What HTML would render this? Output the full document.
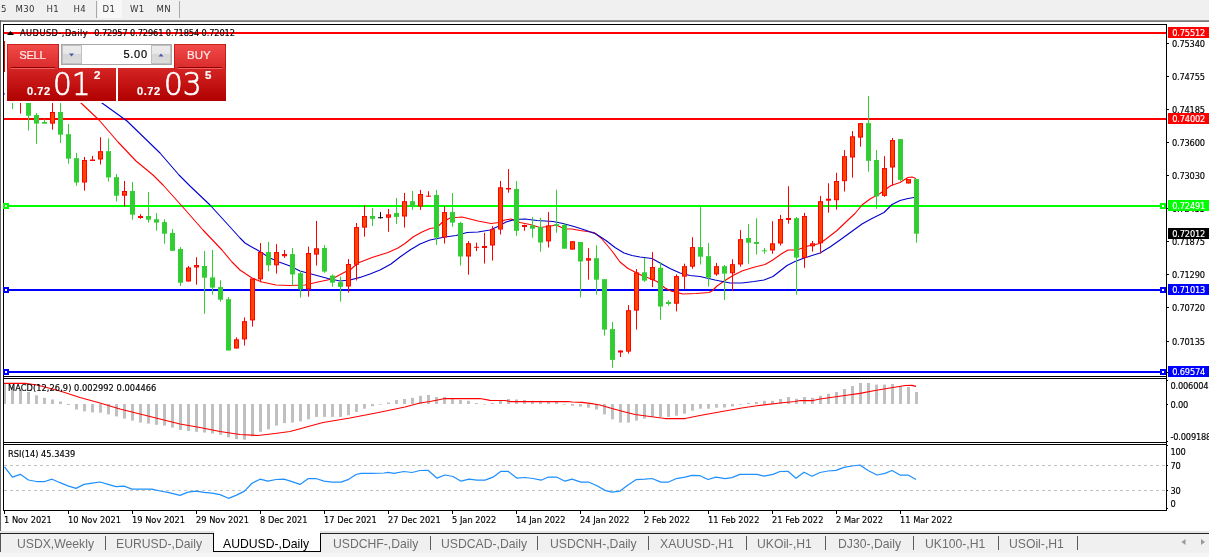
<!DOCTYPE html>
<html><head><meta charset="utf-8"><title>AUDUSD-,Daily</title>
<style>
html,body{margin:0;padding:0;}
body{width:1209px;height:557px;position:relative;overflow:hidden;background:#fff;font-family:"Liberation Sans", sans-serif;}
.t{position:absolute;white-space:nowrap;font-family:"Liberation Sans", sans-serif;-webkit-text-stroke:0.2px;}
.s{font-family:"DejaVu Sans Condensed","Liberation Sans",sans-serif;-webkit-text-stroke:0.15px;}
.pb{font-family:"DejaVu Sans Condensed","Liberation Sans",sans-serif;position:absolute;left:1168px;width:41px;height:11px;font-size:9.2px;letter-spacing:-0.2px;line-height:11.5px;-webkit-text-stroke:0.15px;text-indent:4.3px;white-space:nowrap;overflow:hidden;}
#toolbar{position:absolute;left:0;top:0;width:1209px;height:20px;background:#f0f0f0;}
#tbshadow{position:absolute;left:0;top:20px;width:1209px;height:2px;background:linear-gradient(#a0a0a0,#6e6e6e);}
#leftedge{position:absolute;left:0;top:20px;width:1px;height:511px;background:#666;}
#tabbar{position:absolute;left:0;top:531px;width:1209px;height:26px;background:linear-gradient(#e4e4e4 0,#e4e4e4 2px,#f0f0f0 2px,#f0f0f0 22px,#f6f6f6 22px);}
#tableft{position:absolute;left:0;top:534px;width:1px;height:18px;background:#555;}
#tabline{position:absolute;left:0;top:533px;width:1209px;height:1px;background:#222;}
#tabactive{position:absolute;left:213px;top:533px;width:106px;height:18px;background:#fff;border:1px solid #000;border-top:none;}
#tabwhite{position:absolute;left:214px;top:531px;width:106px;height:3px;background:#fff;}
.sep{position:absolute;top:536px;width:1px;height:14px;background:#5a5a5a;}
.tsep{position:absolute;top:1px;width:1px;height:17px;background:#a8a8a8;}
#d1{position:absolute;left:98px;top:0;width:24px;height:18px;background:#f8f8f8;}
/* trade panel */
#sell{position:absolute;left:7px;top:44px;width:52px;height:25px;background:linear-gradient(#f24a4a,#d92a2a);box-shadow:inset 1px 1px 0 rgba(170,0,0,.55),inset -1px 0 0 rgba(170,0,0,.55);}
#buy{position:absolute;left:174px;top:44px;width:52px;height:25px;background:linear-gradient(#f24a4a,#d92a2a);box-shadow:inset 1px 1px 0 rgba(170,0,0,.55),inset -1px 0 0 rgba(170,0,0,.55);}
#sellp{position:absolute;left:7px;top:68px;width:109px;height:33px;background:linear-gradient(#d42424,#b00000);}
#buyp{position:absolute;left:118px;top:68px;width:108px;height:33px;background:linear-gradient(#d42424,#b00000);}
.uline{position:absolute;height:1px;top:67px;background:#8e0000;box-shadow:0 1px 0 #f06060;}
#spin{position:absolute;left:61px;top:44px;width:111px;height:21px;background:#fff;border:1px solid #a8a8a8;box-sizing:border-box;}
.sb{position:absolute;top:0;width:20px;height:19px;background:linear-gradient(#ececec 0,#e6e6e6 50%,#d6d6d6 50%,#dcdcdc 100%);border:1px solid #c0c0c0;box-sizing:border-box}
.big{font-family:"DejaVu Sans","Liberation Sans",sans-serif;font-weight:200;transform:scaleX(0.94);transform-origin:0 0;-webkit-text-stroke:0.7px #fff;}
</style></head><body>
<div id="toolbar"></div><div id="d1"></div><div id="tbshadow"></div><div id="leftedge"></div>
<div class="tsep" style="left:96px"></div><div class="tsep" style="left:179px"></div>
<svg width="1209" height="557" viewBox="0 0 1209 557" style="position:absolute;left:0;top:0">
<defs><clipPath id="cm"><rect x="4" y="25" width="1162" height="351"/></clipPath><clipPath id="cd"><rect x="4" y="379" width="1162" height="63"/></clipPath></defs>
<rect x="4" y="32" width="1162" height="2" fill="#ff0000" />
<rect x="4" y="118" width="1162" height="2" fill="#ff0000" />
<rect x="4" y="205" width="1162" height="2" fill="#00ff00" />
<rect x="4" y="289" width="1162" height="2" fill="#0000ff" />
<rect x="4" y="371" width="1162" height="2" fill="#0000ff" />
<g clip-path="url(#cm)">
<polyline points="4,60 30,66 60,82 81,103 99,120 118,142 136,161 153,175 163,185 181,205 203,230 222,250 232,262 237,267 240,270 252,278 262,282 276,285 290,285.5 305,285 318,282 332,279 345,272 350,270 358,263 372,257.5 388,252.5 398,248 405,243.5 413,237 422,232 430,228.5 437,227.5 442,222.5 450,218 462,217 478,221 491,223.5 499,222.5 505,220 511,219 520,222.5 530,224.5 540,227.5 548,226.5 556,225 565,229 572,229 580,230.5 594,232.5 601,238 607,245 612,251 620,262 628,268.5 634,271.5 643,276 650,278.5 657,281.5 665,288 671,291 683,294 696,293.5 709,292.5 712,291 717,286 725,280.5 733,275.5 742,271 753,267.5 765,264.5 772,260.5 782,253.5 788,250 797,250 808,246 820,243.5 828,237.5 837,230.5 848,220 855,213.5 862,205 870,199 880,193.5 891,185.5 900,182.5 908,177.5 912,177 916,178.5" fill="none" stroke="#ff0000" stroke-width="1.1" stroke-linejoin="round" />
<polyline points="4,94 40,86 75,86 102,103 127,121 160,153 179,175 190,186 210,205 231,228 240,238 245,243 250,246 259,251 270,258 279,262 290,266 300,271 315,275 328,278.5 340,281 350,280 360,277.4 370,274 380,270 391,264 400,257 410,250 420,244 430,240 445,237 456,235.5 467,232.5 478,232 490,230 498,226.5 506,222 515,219.5 525,219 537,220.5 553,221.5 563,223.5 574,226.5 585,230 596,234 606,240.5 615,247.5 624,253 632,255.5 640,257 652,258.5 660,263 670,268.5 680,273 690,275.5 700,276.5 715,280 730,283 742,283 754,281.5 764,280 773,276.5 780,271 787,265.5 795,261.5 803,258.5 812,255.5 820,253 830,247 840,240 851,232 862,224 871,219 884,212.5 892,204.5 900,200.5 908,198.5 914,197.5" fill="none" stroke="#0000cd" stroke-width="1.1" stroke-linejoin="round" />
<line x1="12.5" y1="85" x2="12.5" y2="109" stroke="#32cd32" stroke-width="1" />
<rect x="10" y="90" width="5" height="10" fill="#32cd32" />
<line x1="20.5" y1="80" x2="20.5" y2="113.7" stroke="#ff0000" stroke-width="1" />
<rect x="18.5" y="85.5" width="4" height="14" fill="#ff4500" stroke="#ff0000" stroke-width="1"/>
<line x1="28.5" y1="85" x2="28.5" y2="130.5" stroke="#32cd32" stroke-width="1" />
<rect x="26" y="90" width="5" height="25.7" fill="#32cd32" />
<line x1="36.5" y1="113" x2="36.5" y2="143.8" stroke="#32cd32" stroke-width="1" />
<rect x="34" y="115" width="5" height="8.6" fill="#32cd32" />
<line x1="44.5" y1="119.3" x2="44.5" y2="123.7" stroke="#32cd32" stroke-width="1" />
<rect x="42" y="122" width="5" height="1.7" fill="#32cd32" />
<line x1="52.5" y1="95" x2="52.5" y2="129.7" stroke="#ff0000" stroke-width="1" />
<rect x="50.5" y="112.5" width="4" height="10.6" fill="#ff4500" stroke="#ff0000" stroke-width="1"/>
<line x1="60.5" y1="95" x2="60.5" y2="143" stroke="#32cd32" stroke-width="1" />
<rect x="58" y="112" width="5" height="22.7" fill="#32cd32" />
<line x1="68.5" y1="124" x2="68.5" y2="163.7" stroke="#32cd32" stroke-width="1" />
<rect x="66" y="134.2" width="5" height="24.5" fill="#32cd32" />
<line x1="76.5" y1="152.9" x2="76.5" y2="185.8" stroke="#32cd32" stroke-width="1" />
<rect x="74" y="158.2" width="5" height="24.3" fill="#32cd32" />
<line x1="84.5" y1="157" x2="84.5" y2="190.7" stroke="#ff0000" stroke-width="1" />
<rect x="82.5" y="160.5" width="4" height="21.5" fill="#ff4500" stroke="#ff0000" stroke-width="1"/>
<line x1="92.5" y1="155.9" x2="92.5" y2="161" stroke="#ff0000" stroke-width="1" />
<rect x="90" y="159.5" width="5" height="1.5" fill="#ff0000" />
<line x1="100.5" y1="137.2" x2="100.5" y2="164.5" stroke="#ff0000" stroke-width="1" />
<rect x="98.5" y="151.7" width="4" height="7.3" fill="#ff4500" stroke="#ff0000" stroke-width="1"/>
<line x1="108.5" y1="138.3" x2="108.5" y2="181.5" stroke="#32cd32" stroke-width="1" />
<rect x="106" y="151.2" width="5" height="26.2" fill="#32cd32" />
<line x1="116.5" y1="174" x2="116.5" y2="201.5" stroke="#32cd32" stroke-width="1" />
<rect x="114" y="177.2" width="5" height="18.5" fill="#32cd32" />
<line x1="124.5" y1="181" x2="124.5" y2="206.4" stroke="#ff0000" stroke-width="1" />
<rect x="122.5" y="191.5" width="4" height="3.7" fill="#ff4500" stroke="#ff0000" stroke-width="1"/>
<line x1="132.5" y1="182" x2="132.5" y2="219.7" stroke="#32cd32" stroke-width="1" />
<rect x="130" y="191" width="5" height="23.7" fill="#32cd32" />
<line x1="140.5" y1="214.2" x2="140.5" y2="218.8" stroke="#ff0000" stroke-width="1" />
<rect x="138" y="216" width="5" height="2" fill="#ff0000" />
<line x1="148.5" y1="192" x2="148.5" y2="222.6" stroke="#32cd32" stroke-width="1" />
<rect x="146" y="216" width="5" height="3.7" fill="#32cd32" />
<line x1="156.5" y1="213" x2="156.5" y2="230.7" stroke="#32cd32" stroke-width="1" />
<rect x="154" y="219.2" width="5" height="3.4" fill="#32cd32" />
<line x1="164.5" y1="219.2" x2="164.5" y2="243.7" stroke="#32cd32" stroke-width="1" />
<rect x="162" y="222.1" width="5" height="11.6" fill="#32cd32" />
<line x1="172.5" y1="229" x2="172.5" y2="250.8" stroke="#32cd32" stroke-width="1" />
<rect x="170" y="232.9" width="5" height="17.9" fill="#32cd32" />
<line x1="180.5" y1="247" x2="180.5" y2="286" stroke="#32cd32" stroke-width="1" />
<rect x="178" y="249" width="5" height="33.7" fill="#32cd32" />
<line x1="188.5" y1="266" x2="188.5" y2="281.5" stroke="#ff0000" stroke-width="1" />
<rect x="186.5" y="268" width="4" height="13" fill="#ff4500" stroke="#ff0000" stroke-width="1"/>
<line x1="196.5" y1="257.2" x2="196.5" y2="284.7" stroke="#ff0000" stroke-width="1" />
<rect x="194.5" y="265.5" width="4" height="1.5" fill="#ff4500" stroke="#ff0000" stroke-width="1"/>
<line x1="204.5" y1="251" x2="204.5" y2="313.8" stroke="#32cd32" stroke-width="1" />
<rect x="202" y="266" width="5" height="11.7" fill="#32cd32" />
<line x1="212.5" y1="250" x2="212.5" y2="294.6" stroke="#32cd32" stroke-width="1" />
<rect x="210" y="277.4" width="5" height="10.2" fill="#32cd32" />
<line x1="220.5" y1="280.2" x2="220.5" y2="301.7" stroke="#32cd32" stroke-width="1" />
<rect x="218" y="287.1" width="5" height="12.6" fill="#32cd32" />
<line x1="228.5" y1="297" x2="228.5" y2="350.5" stroke="#32cd32" stroke-width="1" />
<rect x="226" y="299.2" width="5" height="51.3" fill="#32cd32" />
<line x1="236.5" y1="337.3" x2="236.5" y2="348.5" stroke="#ff0000" stroke-width="1" />
<rect x="234.5" y="339.8" width="4" height="8.2" fill="#ff4500" stroke="#ff0000" stroke-width="1"/>
<line x1="244.5" y1="317.4" x2="244.5" y2="345.5" stroke="#ff0000" stroke-width="1" />
<rect x="242.5" y="321.7" width="4" height="17.2" fill="#ff4500" stroke="#ff0000" stroke-width="1"/>
<line x1="252.5" y1="278.5" x2="252.5" y2="326.5" stroke="#ff0000" stroke-width="1" />
<rect x="250.5" y="279" width="4" height="40.9" fill="#ff4500" stroke="#ff0000" stroke-width="1"/>
<line x1="260.5" y1="243" x2="260.5" y2="282.3" stroke="#ff0000" stroke-width="1" />
<rect x="258.5" y="252.5" width="4" height="26.4" fill="#ff4500" stroke="#ff0000" stroke-width="1"/>
<line x1="268.5" y1="242" x2="268.5" y2="271.4" stroke="#32cd32" stroke-width="1" />
<rect x="266" y="252.1" width="5" height="13.2" fill="#32cd32" />
<line x1="276.5" y1="244.2" x2="276.5" y2="273.6" stroke="#ff0000" stroke-width="1" />
<rect x="274.5" y="252.6" width="4" height="12.2" fill="#ff4500" stroke="#ff0000" stroke-width="1"/>
<line x1="284.5" y1="250" x2="284.5" y2="257.9" stroke="#ff0000" stroke-width="1" />
<rect x="282.5" y="254.5" width="4" height="1.2" fill="#ff4500" stroke="#ff0000" stroke-width="1"/>
<line x1="292.5" y1="248" x2="292.5" y2="285.7" stroke="#32cd32" stroke-width="1" />
<rect x="290" y="254.1" width="5" height="20.3" fill="#32cd32" />
<line x1="300.5" y1="271" x2="300.5" y2="297.6" stroke="#32cd32" stroke-width="1" />
<rect x="298" y="273.2" width="5" height="16.1" fill="#32cd32" />
<line x1="308.5" y1="246.7" x2="308.5" y2="296.7" stroke="#ff0000" stroke-width="1" />
<rect x="306.5" y="253.5" width="4" height="35.3" fill="#ff4500" stroke="#ff0000" stroke-width="1"/>
<line x1="316.5" y1="221" x2="316.5" y2="265.5" stroke="#ff0000" stroke-width="1" />
<rect x="314.5" y="248.8" width="4" height="5.3" fill="#ff4500" stroke="#ff0000" stroke-width="1"/>
<line x1="324.5" y1="245" x2="324.5" y2="272.8" stroke="#32cd32" stroke-width="1" />
<rect x="322" y="248" width="5" height="23.6" fill="#32cd32" />
<line x1="332.5" y1="274.4" x2="332.5" y2="286.8" stroke="#32cd32" stroke-width="1" />
<rect x="330" y="275.6" width="5" height="7.1" fill="#32cd32" />
<line x1="340.5" y1="276.6" x2="340.5" y2="301.7" stroke="#32cd32" stroke-width="1" />
<rect x="338" y="282.2" width="5" height="4.6" fill="#32cd32" />
<line x1="348.5" y1="259" x2="348.5" y2="292.6" stroke="#ff0000" stroke-width="1" />
<rect x="346.5" y="264.5" width="4" height="21.5" fill="#ff4500" stroke="#ff0000" stroke-width="1"/>
<line x1="356.5" y1="223" x2="356.5" y2="280.5" stroke="#ff0000" stroke-width="1" />
<rect x="354.5" y="227.6" width="4" height="36.7" fill="#ff4500" stroke="#ff0000" stroke-width="1"/>
<line x1="364.5" y1="205.3" x2="364.5" y2="236.7" stroke="#ff0000" stroke-width="1" />
<rect x="362.5" y="216.5" width="4" height="10.6" fill="#ff4500" stroke="#ff0000" stroke-width="1"/>
<line x1="372.5" y1="208.1" x2="372.5" y2="226" stroke="#32cd32" stroke-width="1" />
<rect x="370" y="216" width="5" height="2.9" fill="#32cd32" />
<line x1="380.5" y1="212.2" x2="380.5" y2="218.5" stroke="#000" stroke-width="1" />
<rect x="378" y="217.2" width="5" height="1" fill="#000" />
<line x1="388.5" y1="209" x2="388.5" y2="231.8" stroke="#ff0000" stroke-width="1" />
<rect x="386.5" y="214.9" width="4" height="2.3" fill="#ff4500" stroke="#ff0000" stroke-width="1"/>
<line x1="396.5" y1="197.9" x2="396.5" y2="224" stroke="#32cd32" stroke-width="1" />
<rect x="394" y="213" width="5" height="3.9" fill="#32cd32" />
<line x1="404.5" y1="192.9" x2="404.5" y2="227.6" stroke="#ff0000" stroke-width="1" />
<rect x="402.5" y="201.7" width="4" height="14.3" fill="#ff4500" stroke="#ff0000" stroke-width="1"/>
<line x1="412.5" y1="190.9" x2="412.5" y2="209.9" stroke="#32cd32" stroke-width="1" />
<rect x="410" y="201.2" width="5" height="4.9" fill="#32cd32" />
<line x1="420.5" y1="189.9" x2="420.5" y2="209.9" stroke="#ff0000" stroke-width="1" />
<rect x="418.5" y="194.5" width="4" height="11.5" fill="#ff4500" stroke="#ff0000" stroke-width="1"/>
<line x1="428.5" y1="191.2" x2="428.5" y2="196.7" stroke="#ff0000" stroke-width="1" />
<rect x="426" y="195.7" width="5" height="1" fill="#ff0000" />
<line x1="436.5" y1="189.9" x2="436.5" y2="244.8" stroke="#32cd32" stroke-width="1" />
<rect x="434" y="195" width="5" height="42.7" fill="#32cd32" />
<line x1="444.5" y1="206.4" x2="444.5" y2="243.6" stroke="#ff0000" stroke-width="1" />
<rect x="442.5" y="212.6" width="4" height="24.4" fill="#ff4500" stroke="#ff0000" stroke-width="1"/>
<line x1="452.5" y1="193.1" x2="452.5" y2="226.7" stroke="#32cd32" stroke-width="1" />
<rect x="450" y="212.1" width="5" height="10.5" fill="#32cd32" />
<line x1="460.5" y1="221.7" x2="460.5" y2="265.6" stroke="#32cd32" stroke-width="1" />
<rect x="458" y="222.9" width="5" height="33.6" fill="#32cd32" />
<line x1="468.5" y1="241.1" x2="468.5" y2="274.7" stroke="#ff0000" stroke-width="1" />
<rect x="466.5" y="243.7" width="4" height="12.3" fill="#ff4500" stroke="#ff0000" stroke-width="1"/>
<line x1="476.5" y1="242.7" x2="476.5" y2="251" stroke="#ff0000" stroke-width="1" />
<rect x="474" y="246.8" width="5" height="1" fill="#ff0000" />
<line x1="484.5" y1="232.8" x2="484.5" y2="263.6" stroke="#ff0000" stroke-width="1" />
<rect x="482" y="246" width="5" height="2" fill="#ff0000" />
<line x1="492.5" y1="226.2" x2="492.5" y2="260.6" stroke="#ff0000" stroke-width="1" />
<rect x="490.5" y="229.7" width="4" height="15.3" fill="#ff4500" stroke="#ff0000" stroke-width="1"/>
<line x1="500.5" y1="181" x2="500.5" y2="234.5" stroke="#ff0000" stroke-width="1" />
<rect x="498.5" y="187.8" width="4" height="41.2" fill="#ff4500" stroke="#ff0000" stroke-width="1"/>
<line x1="508.5" y1="169.1" x2="508.5" y2="192.8" stroke="#ff0000" stroke-width="1" />
<rect x="506" y="188" width="5" height="1.5" fill="#ff0000" />
<line x1="516.5" y1="181" x2="516.5" y2="235.8" stroke="#32cd32" stroke-width="1" />
<rect x="514" y="189" width="5" height="41.8" fill="#32cd32" />
<line x1="524.5" y1="224.6" x2="524.5" y2="230.8" stroke="#ff0000" stroke-width="1" />
<rect x="522" y="225" width="5" height="2" fill="#ff0000" />
<line x1="532.5" y1="217.1" x2="532.5" y2="237.8" stroke="#32cd32" stroke-width="1" />
<rect x="530" y="225.4" width="5" height="3.3" fill="#32cd32" />
<line x1="540.5" y1="217.9" x2="540.5" y2="251.6" stroke="#32cd32" stroke-width="1" />
<rect x="538" y="227" width="5" height="15.5" fill="#32cd32" />
<line x1="548.5" y1="212.1" x2="548.5" y2="247.5" stroke="#ff0000" stroke-width="1" />
<rect x="546.5" y="225.9" width="4" height="15" fill="#ff4500" stroke="#ff0000" stroke-width="1"/>
<line x1="556.5" y1="189.8" x2="556.5" y2="232.8" stroke="#32cd32" stroke-width="1" />
<rect x="554" y="224.2" width="5" height="1.7" fill="#32cd32" />
<line x1="564.5" y1="223.2" x2="564.5" y2="248.7" stroke="#32cd32" stroke-width="1" />
<rect x="562" y="224.9" width="5" height="23.8" fill="#32cd32" />
<line x1="572.5" y1="241.2" x2="572.5" y2="249.6" stroke="#ff0000" stroke-width="1" />
<rect x="570.5" y="241.7" width="4" height="7.4" fill="#ff4500" stroke="#ff0000" stroke-width="1"/>
<line x1="580.5" y1="242" x2="580.5" y2="297.5" stroke="#32cd32" stroke-width="1" />
<rect x="578" y="242" width="5" height="19.5" fill="#32cd32" />
<line x1="588.5" y1="248.2" x2="588.5" y2="279.7" stroke="#ff0000" stroke-width="1" />
<rect x="586.5" y="258.7" width="4" height="1.4" fill="#ff4500" stroke="#ff0000" stroke-width="1"/>
<line x1="596.5" y1="245.3" x2="596.5" y2="294.6" stroke="#32cd32" stroke-width="1" />
<rect x="594" y="258.2" width="5" height="21.5" fill="#32cd32" />
<line x1="604.5" y1="279.2" x2="604.5" y2="335.7" stroke="#32cd32" stroke-width="1" />
<rect x="602" y="279.2" width="5" height="50.4" fill="#32cd32" />
<line x1="612.5" y1="322" x2="612.5" y2="367.7" stroke="#32cd32" stroke-width="1" />
<rect x="610" y="329.1" width="5" height="30.8" fill="#32cd32" />
<line x1="620.5" y1="350.3" x2="620.5" y2="356.9" stroke="#ff0000" stroke-width="1" />
<rect x="618" y="350.5" width="5" height="2" fill="#ff0000" />
<line x1="628.5" y1="305.1" x2="628.5" y2="353.6" stroke="#ff0000" stroke-width="1" />
<rect x="626.5" y="310.7" width="4" height="40.4" fill="#ff4500" stroke="#ff0000" stroke-width="1"/>
<line x1="636.5" y1="269" x2="636.5" y2="329.6" stroke="#ff0000" stroke-width="1" />
<rect x="634.5" y="272.9" width="4" height="37.2" fill="#ff4500" stroke="#ff0000" stroke-width="1"/>
<line x1="644.5" y1="257.9" x2="644.5" y2="281.9" stroke="#32cd32" stroke-width="1" />
<rect x="642" y="272.3" width="5" height="8.3" fill="#32cd32" />
<line x1="652.5" y1="252.1" x2="652.5" y2="287.1" stroke="#ff0000" stroke-width="1" />
<rect x="650.5" y="267.5" width="4" height="11.9" fill="#ff4500" stroke="#ff0000" stroke-width="1"/>
<line x1="660.5" y1="262" x2="660.5" y2="319.7" stroke="#32cd32" stroke-width="1" />
<rect x="658" y="267.8" width="5" height="38.7" fill="#32cd32" />
<line x1="668.5" y1="300.3" x2="668.5" y2="305.6" stroke="#32cd32" stroke-width="1" />
<rect x="666" y="302" width="5" height="2" fill="#32cd32" />
<line x1="676.5" y1="274.4" x2="676.5" y2="311.4" stroke="#ff0000" stroke-width="1" />
<rect x="674.5" y="276.6" width="4" height="26.6" fill="#ff4500" stroke="#ff0000" stroke-width="1"/>
<line x1="684.5" y1="263.7" x2="684.5" y2="289.1" stroke="#ff0000" stroke-width="1" />
<rect x="682.5" y="266.7" width="4" height="9.4" fill="#ff4500" stroke="#ff0000" stroke-width="1"/>
<line x1="692.5" y1="237.2" x2="692.5" y2="268.7" stroke="#ff0000" stroke-width="1" />
<rect x="690.5" y="247.6" width="4" height="18.6" fill="#ff4500" stroke="#ff0000" stroke-width="1"/>
<line x1="700.5" y1="205.8" x2="700.5" y2="264.5" stroke="#32cd32" stroke-width="1" />
<rect x="698" y="247.1" width="5" height="9.6" fill="#32cd32" />
<line x1="708.5" y1="243" x2="708.5" y2="286.6" stroke="#32cd32" stroke-width="1" />
<rect x="706" y="256.2" width="5" height="21.5" fill="#32cd32" />
<line x1="716.5" y1="262.9" x2="716.5" y2="275.8" stroke="#ff0000" stroke-width="1" />
<rect x="714.5" y="266.7" width="4" height="7.2" fill="#ff4500" stroke="#ff0000" stroke-width="1"/>
<line x1="724.5" y1="265" x2="724.5" y2="299.9" stroke="#32cd32" stroke-width="1" />
<rect x="722" y="266.2" width="5" height="7.4" fill="#32cd32" />
<line x1="732.5" y1="259.2" x2="732.5" y2="290.8" stroke="#ff0000" stroke-width="1" />
<rect x="730.5" y="264.7" width="4" height="8.1" fill="#ff4500" stroke="#ff0000" stroke-width="1"/>
<line x1="740.5" y1="230.1" x2="740.5" y2="266.7" stroke="#ff0000" stroke-width="1" />
<rect x="738.5" y="239.7" width="4" height="24.3" fill="#ff4500" stroke="#ff0000" stroke-width="1"/>
<line x1="748.5" y1="224" x2="748.5" y2="263.7" stroke="#32cd32" stroke-width="1" />
<rect x="746" y="238" width="5" height="4.7" fill="#32cd32" />
<line x1="756.5" y1="218.2" x2="756.5" y2="254.6" stroke="#32cd32" stroke-width="1" />
<rect x="754" y="242" width="5" height="2" fill="#32cd32" />
<line x1="764.5" y1="248" x2="764.5" y2="253.8" stroke="#32cd32" stroke-width="1" />
<rect x="762" y="250.3" width="5" height="1" fill="#32cd32" />
<line x1="772.5" y1="221.2" x2="772.5" y2="253.8" stroke="#ff0000" stroke-width="1" />
<rect x="770.5" y="243.8" width="4" height="6.2" fill="#ff4500" stroke="#ff0000" stroke-width="1"/>
<line x1="780.5" y1="214.9" x2="780.5" y2="245.5" stroke="#ff0000" stroke-width="1" />
<rect x="778.5" y="219.5" width="4" height="23.5" fill="#ff4500" stroke="#ff0000" stroke-width="1"/>
<line x1="788.5" y1="186.2" x2="788.5" y2="223.7" stroke="#ff0000" stroke-width="1" />
<rect x="786" y="218" width="5" height="2" fill="#ff0000" />
<line x1="796.5" y1="217" x2="796.5" y2="294.7" stroke="#32cd32" stroke-width="1" />
<rect x="794" y="218.2" width="5" height="39.4" fill="#32cd32" />
<line x1="804.5" y1="212.9" x2="804.5" y2="267.8" stroke="#ff0000" stroke-width="1" />
<rect x="802.5" y="216.5" width="4" height="40.9" fill="#ff4500" stroke="#ff0000" stroke-width="1"/>
<line x1="812.5" y1="241" x2="812.5" y2="251.6" stroke="#ff0000" stroke-width="1" />
<rect x="810.5" y="243.8" width="4" height="2" fill="#ff4500" stroke="#ff0000" stroke-width="1"/>
<line x1="820.5" y1="195.9" x2="820.5" y2="253.6" stroke="#ff0000" stroke-width="1" />
<rect x="818.5" y="201.7" width="4" height="41.1" fill="#ff4500" stroke="#ff0000" stroke-width="1"/>
<line x1="828.5" y1="183.2" x2="828.5" y2="212.7" stroke="#ff0000" stroke-width="1" />
<rect x="826" y="198.7" width="5" height="2" fill="#ff0000" />
<line x1="836.5" y1="172.8" x2="836.5" y2="209.7" stroke="#ff0000" stroke-width="1" />
<rect x="834.5" y="181.5" width="4" height="18.2" fill="#ff4500" stroke="#ff0000" stroke-width="1"/>
<line x1="844.5" y1="150" x2="844.5" y2="191.5" stroke="#ff0000" stroke-width="1" />
<rect x="842.5" y="156.7" width="4" height="24" fill="#ff4500" stroke="#ff0000" stroke-width="1"/>
<line x1="852.5" y1="131" x2="852.5" y2="177.7" stroke="#ff0000" stroke-width="1" />
<rect x="850.5" y="136.8" width="4" height="20.2" fill="#ff4500" stroke="#ff0000" stroke-width="1"/>
<line x1="860.5" y1="123.1" x2="860.5" y2="146.7" stroke="#ff0000" stroke-width="1" />
<rect x="858.5" y="123.6" width="4" height="13.5" fill="#ff4500" stroke="#ff0000" stroke-width="1"/>
<line x1="868.5" y1="96.1" x2="868.5" y2="171.6" stroke="#32cd32" stroke-width="1" />
<rect x="866" y="123.1" width="5" height="37.7" fill="#32cd32" />
<line x1="876.5" y1="150" x2="876.5" y2="208.8" stroke="#32cd32" stroke-width="1" />
<rect x="874" y="160" width="5" height="36.4" fill="#32cd32" />
<line x1="884.5" y1="156.2" x2="884.5" y2="196.8" stroke="#ff0000" stroke-width="1" />
<rect x="882.5" y="168.6" width="4" height="26.8" fill="#ff4500" stroke="#ff0000" stroke-width="1"/>
<line x1="892.5" y1="138" x2="892.5" y2="185.7" stroke="#ff0000" stroke-width="1" />
<rect x="890.5" y="140.6" width="4" height="26.4" fill="#ff4500" stroke="#ff0000" stroke-width="1"/>
<line x1="900.5" y1="139.1" x2="900.5" y2="181" stroke="#32cd32" stroke-width="1" />
<rect x="898" y="139.1" width="5" height="40.8" fill="#32cd32" />
<line x1="908.5" y1="179.1" x2="908.5" y2="183.5" stroke="#ff0000" stroke-width="1" />
<rect x="906.5" y="179.6" width="4" height="3.4" fill="#ff4500" stroke="#ff0000" stroke-width="1"/>
<line x1="916.5" y1="179.1" x2="916.5" y2="242.7" stroke="#32cd32" stroke-width="1" />
<rect x="914" y="179.1" width="5" height="54.6" fill="#32cd32" />
<line x1="4.5" y1="41" x2="4.5" y2="72" stroke="#ff0000" stroke-width="1" />
</g>
<g clip-path="url(#cd)">
<rect x="3" y="383.4" width="3" height="20.6" fill="#c0c0c0" />
<rect x="11" y="387" width="3" height="17" fill="#c0c0c0" />
<rect x="19" y="389.6" width="3" height="14.4" fill="#c0c0c0" />
<rect x="27" y="392" width="3" height="12" fill="#c0c0c0" />
<rect x="35" y="395.3" width="3" height="8.7" fill="#c0c0c0" />
<rect x="43" y="397.8" width="3" height="6.2" fill="#c0c0c0" />
<rect x="51" y="399.5" width="3" height="4.5" fill="#c0c0c0" />
<rect x="59" y="401.5" width="3" height="2.5" fill="#c0c0c0" />
<rect x="67" y="404" width="3" height="1" fill="#c0c0c0" />
<rect x="75" y="404" width="3" height="5.5" fill="#c0c0c0" />
<rect x="83" y="404" width="3" height="7.4" fill="#c0c0c0" />
<rect x="91" y="404" width="3" height="8.4" fill="#c0c0c0" />
<rect x="99" y="404" width="3" height="8.7" fill="#c0c0c0" />
<rect x="107" y="404" width="3" height="10.4" fill="#c0c0c0" />
<rect x="115" y="404" width="3" height="12.4" fill="#c0c0c0" />
<rect x="123" y="404" width="3" height="14.6" fill="#c0c0c0" />
<rect x="131" y="404" width="3" height="16.6" fill="#c0c0c0" />
<rect x="139" y="404" width="3" height="18.6" fill="#c0c0c0" />
<rect x="147" y="404" width="3" height="19.6" fill="#c0c0c0" />
<rect x="155" y="404" width="3" height="20.8" fill="#c0c0c0" />
<rect x="163" y="404" width="3" height="21.6" fill="#c0c0c0" />
<rect x="171" y="404" width="3" height="23.6" fill="#c0c0c0" />
<rect x="179" y="404" width="3" height="26" fill="#c0c0c0" />
<rect x="187" y="404" width="3" height="27" fill="#c0c0c0" />
<rect x="195" y="404" width="3" height="27.8" fill="#c0c0c0" />
<rect x="203" y="404" width="3" height="28.5" fill="#c0c0c0" />
<rect x="211" y="404" width="3" height="29.5" fill="#c0c0c0" />
<rect x="219" y="404" width="3" height="30.8" fill="#c0c0c0" />
<rect x="227" y="404" width="3" height="33.3" fill="#c0c0c0" />
<rect x="235" y="404" width="3" height="35.2" fill="#c0c0c0" />
<rect x="243" y="404" width="3" height="35.7" fill="#c0c0c0" />
<rect x="251" y="404" width="3" height="32.3" fill="#c0c0c0" />
<rect x="259" y="404" width="3" height="27.8" fill="#c0c0c0" />
<rect x="267" y="404" width="3" height="25.3" fill="#c0c0c0" />
<rect x="275" y="404" width="3" height="21.6" fill="#c0c0c0" />
<rect x="283" y="404" width="3" height="19.1" fill="#c0c0c0" />
<rect x="291" y="404" width="3" height="18.6" fill="#c0c0c0" />
<rect x="299" y="404" width="3" height="17.4" fill="#c0c0c0" />
<rect x="307" y="404" width="3" height="15.4" fill="#c0c0c0" />
<rect x="315" y="404" width="3" height="12.9" fill="#c0c0c0" />
<rect x="323" y="404" width="3" height="12.9" fill="#c0c0c0" />
<rect x="331" y="404" width="3" height="12.9" fill="#c0c0c0" />
<rect x="339" y="404" width="3" height="12.9" fill="#c0c0c0" />
<rect x="347" y="404" width="3" height="11.2" fill="#c0c0c0" />
<rect x="355" y="404" width="3" height="8" fill="#c0c0c0" />
<rect x="363" y="404" width="3" height="4.7" fill="#c0c0c0" />
<rect x="371" y="404" width="3" height="2.2" fill="#c0c0c0" />
<rect x="379" y="404" width="3" height="0.6" fill="#c0c0c0" />
<rect x="387" y="402.5" width="3" height="1.5" fill="#c0c0c0" />
<rect x="395" y="400" width="3" height="4" fill="#c0c0c0" />
<rect x="403" y="399" width="3" height="5" fill="#c0c0c0" />
<rect x="411" y="397.8" width="3" height="6.2" fill="#c0c0c0" />
<rect x="419" y="395.8" width="3" height="8.2" fill="#c0c0c0" />
<rect x="427" y="395" width="3" height="9" fill="#c0c0c0" />
<rect x="435" y="397" width="3" height="7" fill="#c0c0c0" />
<rect x="443" y="397" width="3" height="7" fill="#c0c0c0" />
<rect x="451" y="398.3" width="3" height="5.7" fill="#c0c0c0" />
<rect x="459" y="400" width="3" height="4" fill="#c0c0c0" />
<rect x="467" y="400.8" width="3" height="3.2" fill="#c0c0c0" />
<rect x="475" y="403" width="3" height="1" fill="#c0c0c0" />
<rect x="483" y="404" width="3" height="0.6" fill="#c0c0c0" />
<rect x="491" y="403" width="3" height="1" fill="#c0c0c0" />
<rect x="499" y="401" width="3" height="3" fill="#c0c0c0" />
<rect x="507" y="399" width="3" height="5" fill="#c0c0c0" />
<rect x="515" y="399.5" width="3" height="4.5" fill="#c0c0c0" />
<rect x="523" y="400" width="3" height="4" fill="#c0c0c0" />
<rect x="531" y="400.8" width="3" height="3.2" fill="#c0c0c0" />
<rect x="539" y="400.8" width="3" height="3.2" fill="#c0c0c0" />
<rect x="547" y="401" width="3" height="3" fill="#c0c0c0" />
<rect x="555" y="401.3" width="3" height="2.7" fill="#c0c0c0" />
<rect x="563" y="404" width="3" height="0.6" fill="#c0c0c0" />
<rect x="571" y="404" width="3" height="1.7" fill="#c0c0c0" />
<rect x="579" y="404" width="3" height="2.5" fill="#c0c0c0" />
<rect x="587" y="404" width="3" height="3.7" fill="#c0c0c0" />
<rect x="595" y="404" width="3" height="5.5" fill="#c0c0c0" />
<rect x="603" y="404" width="3" height="10.4" fill="#c0c0c0" />
<rect x="611" y="404" width="3" height="15.4" fill="#c0c0c0" />
<rect x="619" y="404" width="3" height="18.6" fill="#c0c0c0" />
<rect x="627" y="404" width="3" height="18.6" fill="#c0c0c0" />
<rect x="635" y="404" width="3" height="16.6" fill="#c0c0c0" />
<rect x="643" y="404" width="3" height="14.6" fill="#c0c0c0" />
<rect x="651" y="404" width="3" height="12.9" fill="#c0c0c0" />
<rect x="659" y="404" width="3" height="12.9" fill="#c0c0c0" />
<rect x="667" y="404" width="3" height="12.9" fill="#c0c0c0" />
<rect x="675" y="404" width="3" height="11.7" fill="#c0c0c0" />
<rect x="683" y="404" width="3" height="9.7" fill="#c0c0c0" />
<rect x="691" y="404" width="3" height="6.7" fill="#c0c0c0" />
<rect x="699" y="404" width="3" height="4.7" fill="#c0c0c0" />
<rect x="707" y="404" width="3" height="4.7" fill="#c0c0c0" />
<rect x="715" y="404" width="3" height="3.7" fill="#c0c0c0" />
<rect x="723" y="404" width="3" height="3.5" fill="#c0c0c0" />
<rect x="731" y="404" width="3" height="2.5" fill="#c0c0c0" />
<rect x="739" y="404" width="3" height="0.7" fill="#c0c0c0" />
<rect x="747" y="402.8" width="3" height="1.2" fill="#c0c0c0" />
<rect x="755" y="402" width="3" height="2" fill="#c0c0c0" />
<rect x="763" y="400.8" width="3" height="3.2" fill="#c0c0c0" />
<rect x="771" y="400.8" width="3" height="3.2" fill="#c0c0c0" />
<rect x="779" y="399" width="3" height="5" fill="#c0c0c0" />
<rect x="787" y="397" width="3" height="7" fill="#c0c0c0" />
<rect x="795" y="398.8" width="3" height="5.2" fill="#c0c0c0" />
<rect x="803" y="397" width="3" height="7" fill="#c0c0c0" />
<rect x="811" y="397.8" width="3" height="6.2" fill="#c0c0c0" />
<rect x="819" y="395.8" width="3" height="8.2" fill="#c0c0c0" />
<rect x="827" y="393.8" width="3" height="10.2" fill="#c0c0c0" />
<rect x="835" y="392" width="3" height="12" fill="#c0c0c0" />
<rect x="843" y="389" width="3" height="15" fill="#c0c0c0" />
<rect x="851" y="386" width="3" height="18" fill="#c0c0c0" />
<rect x="859" y="383" width="3" height="21" fill="#c0c0c0" />
<rect x="867" y="383" width="3" height="21" fill="#c0c0c0" />
<rect x="875" y="384.6" width="3" height="19.4" fill="#c0c0c0" />
<rect x="883" y="384.6" width="3" height="19.4" fill="#c0c0c0" />
<rect x="891" y="384" width="3" height="20" fill="#c0c0c0" />
<rect x="899" y="386" width="3" height="18" fill="#c0c0c0" />
<rect x="907" y="387" width="3" height="17" fill="#c0c0c0" />
<rect x="915" y="392" width="3" height="12" fill="#c0c0c0" />
<polyline points="4,383.4 25,383.4 37,385 60,391 80,397.5 100,403 120,409 140,414 160,419 180,424 200,427.5 220,431.5 240,434.5 258,435.5 275,433.5 290,431.5 323,422.5 350,418 376,413 405,407 420,403 430,401.5 445,398.5 480,398.5 490,400.3 505,400.5 510,401.5 568,401.5 572,402 582,402.3 590,403.3 600,405 612,408.5 625,412 635,414.5 650,416.5 665,418.5 685,418.5 700,415.5 722,411.5 742,408 755,406 780,403 795,401.5 800,400.5 813,400.5 820,399 845,395.5 860,393.3 875,390.5 890,388 905,385.5 912,385.3 916,386.4" fill="none" stroke="#ff0000" stroke-width="1.25" stroke-linejoin="round" />
</g>
<line x1="4" y1="465.5" x2="1166" y2="465.5" stroke="#c0c0c0" stroke-width="1" stroke-dasharray="3,3"/>
<line x1="4" y1="490.5" x2="1166" y2="490.5" stroke="#c0c0c0" stroke-width="1" stroke-dasharray="3,3"/>
<polyline points="4.5,466.8 12.4,477.2 20.3,474.3 28.5,480 36.5,481.5 44.7,481.5 52.1,479.2 60,482.7 68,485.9 76,488.4 84,484.4 92,483.2 100,482 108,484.4 116,486.7 124,486.2 132,489.1 140,489.1 152,489.1 160,491 168,492.4 180,495.4 188,492.1 196,491.1 204,492.4 212,493.1 220,494.6 228.5,498.3 236,495.4 244.5,491.1 252,483.2 260,479.2 268,481.2 276,479.5 284,479.2 292,481.7 300,484.4 308,478.7 316,478.5 324,481.2 332,482.2 341,482.2 348,479.7 356,474.5 361,473.3 372,473.3 384,473 388,472.3 394,473.3 404,471.5 412,472.5 420,470.5 428,470.3 437,478.2 445,475 453,476.5 461,481.2 469,479.2 477,480.2 485,480.2 493,477.2 501,471.3 508,471.3 517,478.2 525,477.5 533,478.5 541,480.2 548,477.2 557,477.2 565,481.2 572,479.2 581,482.2 589,482.2 597,485.7 605,490.4 612,492.1 620,491.1 628,484.9 636,479.7 645,479.2 652,478.5 661,482.2 668,482.2 676,478.7 685,477.2 692,475.3 700,475.7 708,479.5 716,477.2 725,478.7 732,477.7 740,474.3 757,474.3 764,476.2 773,474.3 780,471.5 788,471.3 796,478.2 804,472.3 812,476.2 820,472.5 828,471 836,470.3 844,467.3 852,466 860,465 868,470.5 877,475 885,473.3 892,470.5 900,475 908,475 916,479.5" fill="none" stroke="#1e90ff" stroke-width="1.25" stroke-linejoin="round" />
<rect x="3" y="24" width="1164" height="1" fill="#000" />
<rect x="3" y="24" width="1" height="487" fill="#000" />
<rect x="1166" y="24" width="1" height="487" fill="#000" />
<rect x="3" y="376" width="1164" height="1" fill="#000" />
<rect x="3" y="378" width="1164" height="1" fill="#000" />
<rect x="3" y="442" width="1164" height="1" fill="#000" />
<rect x="3" y="444" width="1164" height="1" fill="#000" />
<rect x="3" y="510" width="1164" height="1" fill="#000" />
<rect x="4" y="511" width="1" height="3" fill="#000" />
<rect x="68" y="511" width="1" height="3" fill="#000" />
<rect x="132" y="511" width="1" height="3" fill="#000" />
<rect x="196" y="511" width="1" height="3" fill="#000" />
<rect x="260" y="511" width="1" height="3" fill="#000" />
<rect x="324" y="511" width="1" height="3" fill="#000" />
<rect x="388" y="511" width="1" height="3" fill="#000" />
<rect x="452" y="511" width="1" height="3" fill="#000" />
<rect x="516" y="511" width="1" height="3" fill="#000" />
<rect x="580" y="511" width="1" height="3" fill="#000" />
<rect x="644" y="511" width="1" height="3" fill="#000" />
<rect x="708" y="511" width="1" height="3" fill="#000" />
<rect x="772" y="511" width="1" height="3" fill="#000" />
<rect x="836" y="511" width="1" height="3" fill="#000" />
<rect x="900" y="511" width="1" height="3" fill="#000" />
<rect x="1167" y="43" width="2" height="1" fill="#000" />
<rect x="1167" y="76" width="2" height="1" fill="#000" />
<rect x="1167" y="109" width="2" height="1" fill="#000" />
<rect x="1167" y="142" width="2" height="1" fill="#000" />
<rect x="1167" y="175" width="2" height="1" fill="#000" />
<rect x="1167" y="208" width="2" height="1" fill="#000" />
<rect x="1167" y="241" width="2" height="1" fill="#000" />
<rect x="1167" y="274" width="2" height="1" fill="#000" />
<rect x="1167" y="307" width="2" height="1" fill="#000" />
<rect x="1167" y="341" width="2" height="1" fill="#000" />
<rect x="1167" y="380" width="1" height="1" fill="#000" />
<rect x="1167" y="404" width="1" height="1" fill="#000" />
<rect x="1167" y="441" width="1" height="1" fill="#000" />
<rect x="1167" y="445" width="1" height="1" fill="#000" />
<rect x="1167" y="465" width="1" height="1" fill="#000" />
<rect x="1167" y="490" width="1" height="1" fill="#000" />
<rect x="1167" y="508" width="1" height="1" fill="#000" />
<rect x="1167" y="372" width="1" height="1" fill="#000" />
<rect x="4" y="204" width="4" height="4" fill="#fff" stroke="#00ff00" stroke-width="2"/>
<rect x="1161" y="204" width="4" height="4" fill="#fff" stroke="#00ff00" stroke-width="2"/>
<rect x="4" y="288" width="4" height="4" fill="#fff" stroke="#0000ff" stroke-width="2"/>
<rect x="1161" y="288" width="4" height="4" fill="#fff" stroke="#0000ff" stroke-width="2"/>
<rect x="4" y="370" width="4" height="4" fill="#fff" stroke="#0000ff" stroke-width="2"/>
<rect x="1161" y="370" width="4" height="4" fill="#fff" stroke="#0000ff" stroke-width="2"/>
</svg>
<div id="tabbar"></div><div id="tableft"></div><div id="tabline"></div><div id="tabactive"></div><div id="tabwhite"></div>
<div class="sep" style="left:105px"></div><div class="sep" style="left:430px"></div><div class="sep" style="left:537px"></div><div class="sep" style="left:648px"></div><div class="sep" style="left:746px"></div><div class="sep" style="left:825px"></div><div class="sep" style="left:913px"></div><div class="sep" style="left:998px"></div><div class="sep" style="left:1077px"></div>
<div style="position:absolute;left:5px;top:41px;width:223px;height:62px;background:#fff"></div><div id="sellp"></div><div id="buyp"></div><div id="sell"></div><div id="buy"></div>
<div class="uline" style="left:11px;width:44px"></div><div class="uline" style="left:178px;width:44px"></div>
<div id="spin"><div class="sb" style="left:0px"></div><div class="sb" style="left:89px"></div></div>
<svg width="1209" height="557" viewBox="0 0 1209 557" style="position:absolute;left:0;top:0;pointer-events:none">
<path d="M69 53.5h5l-2.5 3z" fill="#4a5aa8"/><path d="M158.5 56.5h5l-2.5 -3z" fill="#4a5aa8"/>
<path d="M7 35h7l-3.5 -4z" fill="#000"/>
<path d="M1185.5 539v6l-4 -3z" fill="#999"/><path d="M1201 539v6l4 -3z" fill="#999"/>
</svg>
<div class="t  s" style="left:1px;top:2px;font-size:9.2px;color:#333;-webkit-text-stroke:0;line-height:14px;letter-spacing:0.3px;font-size:9.5px;">5</div><div class="t  s" style="left:15.5px;top:2px;font-size:9.2px;color:#333;-webkit-text-stroke:0;line-height:14px;letter-spacing:0.3px;font-size:9.5px;">M30</div><div class="t  s" style="left:46.5px;top:2px;font-size:9.2px;color:#333;-webkit-text-stroke:0;line-height:14px;letter-spacing:0.3px;font-size:9.5px;">H1</div><div class="t  s" style="left:73.5px;top:2px;font-size:9.2px;color:#333;-webkit-text-stroke:0;line-height:14px;letter-spacing:0.3px;font-size:9.5px;">H4</div><div class="t  s" style="left:102.5px;top:2px;font-size:9.2px;color:#333;-webkit-text-stroke:0;line-height:14px;letter-spacing:0.3px;font-size:9.5px;">D1</div><div class="t  s" style="left:130px;top:2px;font-size:9.2px;color:#333;-webkit-text-stroke:0;line-height:14px;letter-spacing:0.3px;font-size:9.5px;">W1</div><div class="t  s" style="left:156.5px;top:2px;font-size:9.2px;color:#333;-webkit-text-stroke:0;line-height:14px;letter-spacing:0.3px;font-size:9.5px;">MN</div><div class="t  s" style="left:1172px;top:37.5px;font-size:9.2px;color:#000;line-height:12px;letter-spacing:-0.2px;">0.75340</div><div class="t  s" style="left:1172px;top:70.5px;font-size:9.2px;color:#000;line-height:12px;letter-spacing:-0.2px;">0.74755</div><div class="t  s" style="left:1172px;top:103.5px;font-size:9.2px;color:#000;line-height:12px;letter-spacing:-0.2px;">0.74185</div><div class="t  s" style="left:1172px;top:136.5px;font-size:9.2px;color:#000;line-height:12px;letter-spacing:-0.2px;">0.73600</div><div class="t  s" style="left:1172px;top:169.5px;font-size:9.2px;color:#000;line-height:12px;letter-spacing:-0.2px;">0.73030</div><div class="t  s" style="left:1172px;top:202.5px;font-size:9.2px;color:#000;line-height:12px;letter-spacing:-0.2px;">0.72455</div><div class="t  s" style="left:1172px;top:235.5px;font-size:9.2px;color:#000;line-height:12px;letter-spacing:-0.2px;">0.71875</div><div class="t  s" style="left:1172px;top:268.5px;font-size:9.2px;color:#000;line-height:12px;letter-spacing:-0.2px;">0.71290</div><div class="t  s" style="left:1172px;top:301.5px;font-size:9.2px;color:#000;line-height:12px;letter-spacing:-0.2px;">0.70720</div><div class="t  s" style="left:1172px;top:335.5px;font-size:9.2px;color:#000;line-height:12px;letter-spacing:-0.2px;">0.70135</div><div class="t  s" style="left:1170.5px;top:380px;font-size:9.2px;color:#000;line-height:12px;letter-spacing:-0.2px;">0.006004</div><div class="t  s" style="left:1170.5px;top:399px;font-size:9.2px;color:#000;line-height:12px;letter-spacing:-0.2px;">0.00</div><div class="t  s" style="left:1170.5px;top:431px;font-size:9.2px;color:#000;line-height:12px;letter-spacing:-0.2px;">-0.009188</div><div class="t  s" style="left:1170.5px;top:446px;font-size:9.2px;color:#000;line-height:12px;letter-spacing:-0.2px;">100</div><div class="t  s" style="left:1170.5px;top:460px;font-size:9.2px;color:#000;line-height:12px;letter-spacing:-0.2px;">70</div><div class="t  s" style="left:1170.5px;top:485px;font-size:9.2px;color:#000;line-height:12px;letter-spacing:-0.2px;">30</div><div class="t  s" style="left:1170.5px;top:498px;font-size:9.2px;color:#000;line-height:12px;letter-spacing:-0.2px;">0</div><div class="pb" style="top:27px;background:#ff0000;color:#fff">0.75512</div><div class="pb" style="top:113px;background:#ff0000;color:#fff">0.74002</div><div class="pb" style="top:200px;background:#00ff00;color:#fff">0.72491</div><div class="pb" style="top:228px;background:#000;color:#fff">0.72012</div><div class="pb" style="top:284px;background:#0000ff;color:#fff">0.71013</div><div class="pb" style="top:366px;background:#0000ff;color:#fff">0.69574</div><div class="t  s" style="left:4px;top:514px;font-size:9.2px;color:#000;line-height:12px;">1 Nov 2021</div><div class="t  s" style="left:68px;top:514px;font-size:9.2px;color:#000;line-height:12px;">10 Nov 2021</div><div class="t  s" style="left:132px;top:514px;font-size:9.2px;color:#000;line-height:12px;">19 Nov 2021</div><div class="t  s" style="left:196px;top:514px;font-size:9.2px;color:#000;line-height:12px;">29 Nov 2021</div><div class="t  s" style="left:260px;top:514px;font-size:9.2px;color:#000;line-height:12px;">8 Dec 2021</div><div class="t  s" style="left:324px;top:514px;font-size:9.2px;color:#000;line-height:12px;">17 Dec 2021</div><div class="t  s" style="left:388px;top:514px;font-size:9.2px;color:#000;line-height:12px;">27 Dec 2021</div><div class="t  s" style="left:452px;top:514px;font-size:9.2px;color:#000;line-height:12px;">5 Jan 2022</div><div class="t  s" style="left:516px;top:514px;font-size:9.2px;color:#000;line-height:12px;">14 Jan 2022</div><div class="t  s" style="left:580px;top:514px;font-size:9.2px;color:#000;line-height:12px;">24 Jan 2022</div><div class="t  s" style="left:644px;top:514px;font-size:9.2px;color:#000;line-height:12px;">2 Feb 2022</div><div class="t  s" style="left:708px;top:514px;font-size:9.2px;color:#000;line-height:12px;">11 Feb 2022</div><div class="t  s" style="left:772px;top:514px;font-size:9.2px;color:#000;line-height:12px;">21 Feb 2022</div><div class="t  s" style="left:836px;top:514px;font-size:9.2px;color:#000;line-height:12px;">2 Mar 2022</div><div class="t  s" style="left:900px;top:514px;font-size:9.2px;color:#000;line-height:12px;">11 Mar 2022</div><div class="t  s" style="left:20px;top:27px;font-size:9.2px;color:#000;line-height:12px;letter-spacing:0.45px;">AUDUSD-,Daily</div><div class="t  s" style="left:94.3px;top:27px;font-size:9.2px;color:#000;line-height:12px;letter-spacing:-0.13px;">0.72957 0.72961 0.71854 0.72012</div><div class="t  s" style="left:8px;top:382px;font-size:9.2px;color:#000;line-height:12px;letter-spacing:0.05px;">MACD(12,26,9) 0.002992 0.004466</div><div class="t  s" style="left:8px;top:448px;font-size:9.2px;color:#000;line-height:12px;">RSI(14) 45.3439</div><div class="t " style="left:17px;top:537px;font-size:12.2px;color:#6e6e6e;line-height:15px;-webkit-text-stroke:0;">USDX,Weekly</div><div class="t " style="left:116px;top:537px;font-size:12.2px;color:#6e6e6e;line-height:15px;-webkit-text-stroke:0;">EURUSD-,Daily</div><div class="t " style="left:223px;top:537px;font-size:12.2px;color:#000;line-height:15px;-webkit-text-stroke:0;">AUDUSD-,Daily</div><div class="t " style="left:333px;top:537px;font-size:12.2px;color:#6e6e6e;line-height:15px;-webkit-text-stroke:0;">USDCHF-,Daily</div><div class="t " style="left:441px;top:537px;font-size:12.2px;color:#6e6e6e;line-height:15px;-webkit-text-stroke:0;">USDCAD-,Daily</div><div class="t " style="left:550px;top:537px;font-size:12.2px;color:#6e6e6e;line-height:15px;-webkit-text-stroke:0;">USDCNH-,Daily</div><div class="t " style="left:660px;top:537px;font-size:12.2px;color:#6e6e6e;line-height:15px;-webkit-text-stroke:0;">XAUUSD-,H1</div><div class="t " style="left:757px;top:537px;font-size:12.2px;color:#6e6e6e;line-height:15px;-webkit-text-stroke:0;">UKOil-,H1</div><div class="t " style="left:838px;top:537px;font-size:12.2px;color:#6e6e6e;line-height:15px;-webkit-text-stroke:0;">DJ30-,Daily</div><div class="t " style="left:925px;top:537px;font-size:12.2px;color:#6e6e6e;line-height:15px;-webkit-text-stroke:0;">UK100-,H1</div><div class="t " style="left:1009px;top:537px;font-size:12.2px;color:#6e6e6e;line-height:15px;-webkit-text-stroke:0;">USOil-,H1</div>
<div class="t" style="left:19.3px;top:48px;font-size:11.3px;letter-spacing:-0.4px;color:#ffe8e8;line-height:14px">SELL</div>
<div class="t" style="left:187px;top:48px;font-size:11.5px;color:#ffe8e8;line-height:14px">BUY</div>
<div class="t" style="left:123.5px;top:47px;font-size:11px;letter-spacing:0.7px;color:#000;line-height:14px">5.00</div>
<div class="t" style="left:27px;top:85px;font-size:11px;letter-spacing:0.6px;font-weight:bold;color:#fff;line-height:12px">0.72</div>
<div class="t" style="left:137px;top:85px;font-size:11px;letter-spacing:0.6px;font-weight:bold;color:#fff;line-height:12px">0.72</div>
<div class="t big" style="left:52.5px;top:64px;font-size:31.5px;color:#fff;line-height:40px">01</div>
<div class="t big" style="left:163.5px;top:64px;font-size:31.5px;color:#fff;line-height:40px">03</div>
<div class="t" style="left:94px;top:69px;font-size:11.5px;font-weight:bold;color:#fff;line-height:13px">2</div>
<div class="t" style="left:205px;top:69px;font-size:11.5px;font-weight:bold;color:#fff;line-height:13px">5</div>
</body></html>
